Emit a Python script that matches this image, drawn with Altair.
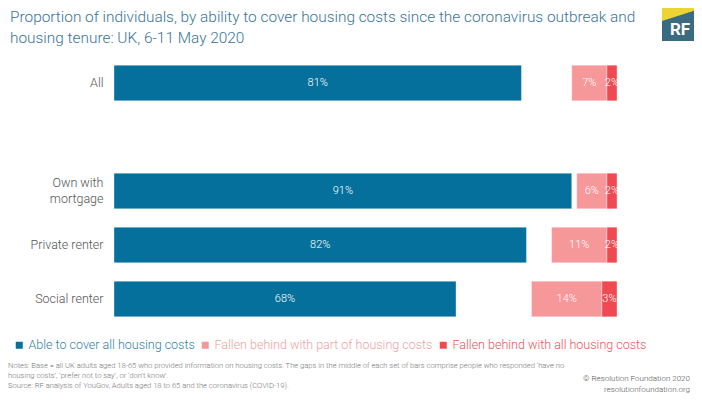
import altair as alt
import pandas as pd
from urllib.parse import quote

# ---- data ----
categories = ["All", "Own with|mortgage", "Private renter", "Social renter"]
able = [81, 91, 82, 68]
part = [7, 6, 11, 14]
allcosts = [2, 2, 2, 3]
series_names = ["Able to cover all housing costs",
                "Fallen behind with part of housing costs",
                "Fallen behind with all housing costs"]
series_colors = ["#05709b", "#f6979a", "#ef4a52"]
y_domain = ["All", " ", "Own with|mortgage", "Private renter", "Social renter"]

title_lines = ["Proportion of individuals, by ability to cover housing costs since the coronavirus outbreak and",
               "housing tenure: UK, 6-11 May 2020"]
notes_lines = [
    "Notes: Base = all UK adults aged 18-65 who provided information on housing costs. The gaps in the middle of each set of bars comprise people who responded \u2018have no",
    "housing costs\u2019, \u2018prefer not to say\u2019, or \u2018don\u2019t know\u2019.",
    "Source: RF analysis of YouGov, Adults aged 18 to 65 and the coronavirus (COVID-19).",
]
credit_lines = ["\u00a9 Resolution Foundation 2020", "resolutionfoundation.org"]

rows = []
for c, a, p, f in zip(categories, able, part, allcosts):
    rows.append(dict(cat=c, series=series_names[0], start=0, end=a, val=a))
    rows.append(dict(cat=c, series=series_names[1], start=100 - f - p, end=100 - f, val=p))
    rows.append(dict(cat=c, series=series_names[2], start=100 - f, end=100, val=f))
df = pd.DataFrame(rows)
df["mid"] = (df["start"] + df["end"]) / 2
df["label"] = df["val"].astype(str) + "%"

FONT = "Roboto"

label_color_expr = (
    "datum.label == '" + series_names[0] + "' ? '#2f82aa' : "
    "(datum.label == '" + series_names[1] + "' ? '#f4a0a2' : '#ef535a')"
)

x = alt.X("start:Q", scale=alt.Scale(domain=[0, 100], nice=False), axis=None)
y = alt.Y("cat:N", scale=alt.Scale(domain=y_domain, paddingInner=0.34, paddingOuter=0.17),
          axis=alt.Axis(title=None, domain=False, ticks=False, labelPadding=11,
                        labelFont=FONT, labelFontSize=12.5, labelColor="#555555",
                        labelFontWeight=300, labelLineHeight=16,
                        labelOffset={"condition": {"test": "indexof(datum.value, '|') >= 0", "value": -8},
                                     "value": 0},
                        labelExpr="split(datum.label, '|')"))

bars = alt.Chart(df).mark_bar(stroke="white", strokeWidth=1, strokeOpacity=0.35).encode(
    x=x,
    x2="end:Q",
    y=y,
    color=alt.Color("series:N",
                    scale=alt.Scale(domain=series_names, range=series_colors),
                    legend=alt.Legend(title=None, orient="none", direction="horizontal",
                                      legendX=-101, legendY=283, gridAlign="none",
                                      symbolType="square", symbolSize=49,
                                      symbolStrokeWidth=0, columnPadding=4,
                                      labelFont=FONT, labelFontSize=12.5,
                                      labelFontWeight=300, labelOffset=3,
                                      labelLimit=400,
                                      labelColor={"expr": label_color_expr})),
)

texts = alt.Chart(df).mark_text(color="white", font=FONT, fontSize=11, fontWeight=300).encode(
    x=alt.X("mid:Q"),
    y=alt.Y("cat:N"),
    text="label:N",
)

title = alt.Chart(pd.DataFrame({"t": [title_lines]})).mark_text(
    align="left", baseline="middle", font=FONT, fontSize=15.4, color="#3a7497",
    lineHeight=20.5, fontWeight=300
).encode(x=alt.value(-104), y=alt.value(-39), text="t:N")

notes = alt.Chart(pd.DataFrame({"t": [notes_lines]})).mark_text(
    align="left", baseline="middle", font=FONT, fontSize=7.6, color="#777777",
    lineHeight=10, fontWeight=300
).encode(x=alt.value(-106), y=alt.value(310), text="t:N")

credit = alt.Chart(pd.DataFrame({"t": [credit_lines]})).mark_text(
    align="right", baseline="middle", font=FONT, fontSize=8, color="#555555",
    lineHeight=11, fontWeight=300
).encode(x=alt.value(576), y=alt.value(322.5), text="t:N")

# RF logo (shapes as image, letters as text)
logo_svg = ("<svg xmlns='http://www.w3.org/2000/svg' width='36' height='33' viewBox='0 0 36 33'>"
            "<rect width='36' height='33' fill='#3a6b80'/>"
            "<polygon points='0,0 36,0 36,1.5 0,13' fill='#ebd533'/></svg>")
logo_url = "data:image/svg+xml;charset=utf-8," + quote(logo_svg)
logo_img = alt.Chart(pd.DataFrame({"a": [1]})).mark_image(
    width=36, height=33, align="left", baseline="top", aspect=False
).encode(x=alt.value(548), y=alt.value(-48), url=alt.value(logo_url))
logo_txt = alt.Chart(pd.DataFrame({"t": ["RF"]})).mark_text(
    font=FONT, fontSize=17, fontWeight="bold", color="white", baseline="middle"
).encode(x=alt.value(566), y=alt.value(-26), text="t:N")

chart = alt.layer(bars, texts, title, notes, credit, logo_img, logo_txt).properties(
    width=503, height=270,
    autosize=alt.AutoSizeParams(type="none"),
    padding={"left": 106, "top": 48, "right": 77, "bottom": 68},
).configure_view(stroke=None)

chart.save("out.html", embed_options={"renderer": "svg", "actions": False})
